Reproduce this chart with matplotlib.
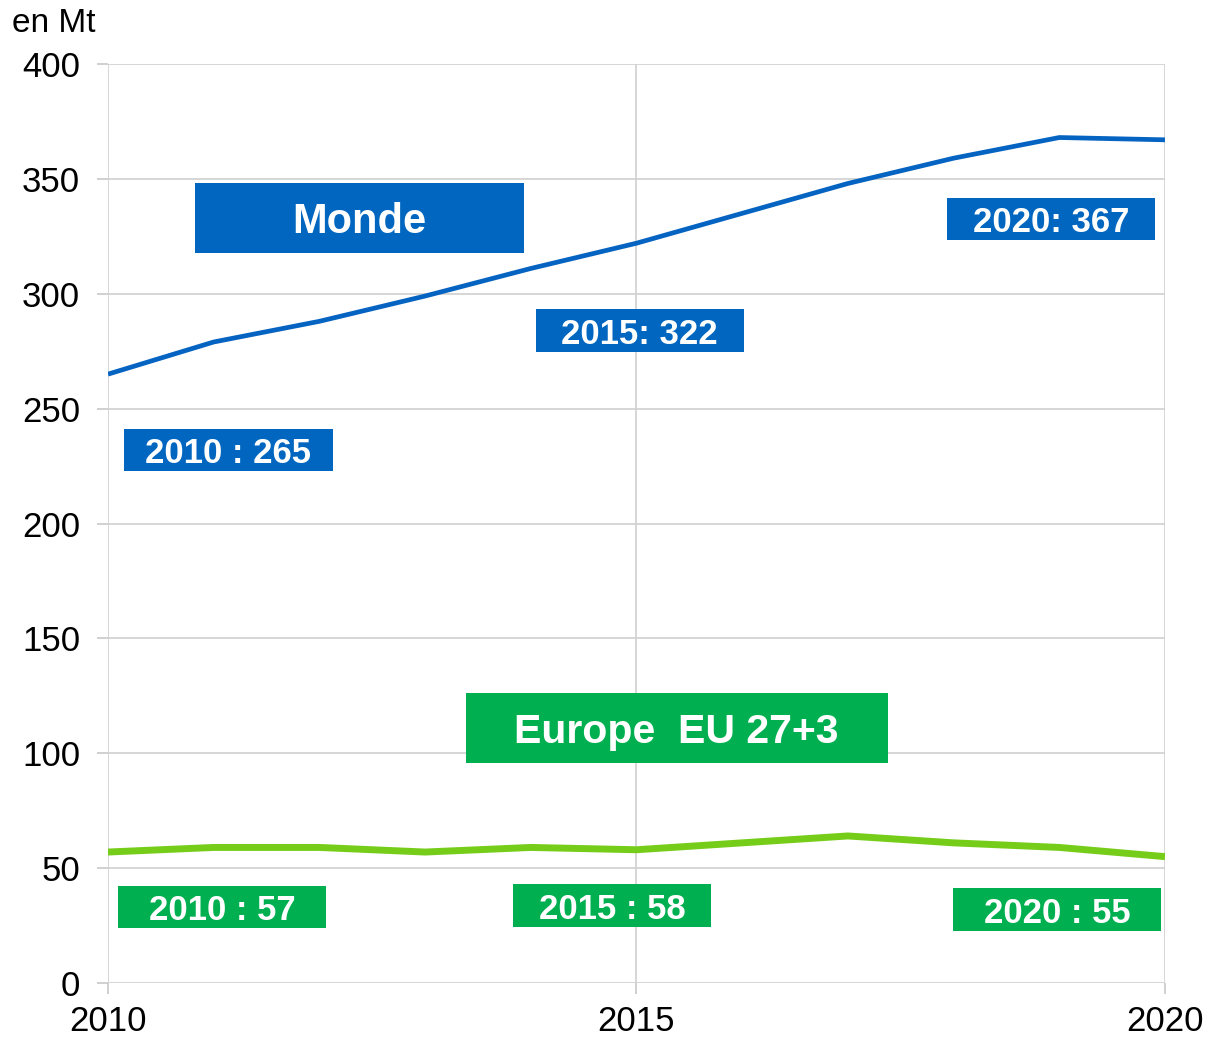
import matplotlib.pyplot as plt
from matplotlib.patches import Rectangle

plt.rcParams['font.family'] = ['Liberation Sans', 'DejaVu Sans']

# Données (en Mt)
annees = [2010, 2011, 2012, 2013, 2014, 2015, 2016, 2017, 2018, 2019, 2020]
monde = [265, 279, 288, 299, 311, 322, 335, 348, 359, 368, 367]
europe = [57, 59, 59, 57, 59, 58, 61, 64, 61, 59, 55]

y_ticks = [0, 50, 100, 150, 200, 250, 300, 350, 400]
x_ticks = [2010, 2015, 2020]

bleu = '#0066BF'
vert_box = '#00B050'
vert_ligne = '#76CD19'

fig = plt.figure(figsize=(12.09, 10.39), dpi=100)
ax = fig.add_axes([0.0893, 0.0539, 0.8743, 0.8845])

ax.plot(annees, monde, color='#0563C1', lw=3.4, solid_capstyle='butt', zorder=3)
ax.plot(annees, europe, color=vert_ligne, lw=5, solid_capstyle='butt', zorder=3)

ax.set_xlim(2010, 2020)
ax.set_ylim(0, 400)
ax.set_xticks(x_ticks)
ax.set_yticks(y_ticks)
ax.grid(True, color='#D0D0D0', lw=1.2)
ax.set_axisbelow(True)
for s in ax.spines.values():
    s.set_visible(False)
ax.tick_params(axis='both', labelsize=25, color='#C8C8C8', width=1.2, length=8)
ax.tick_params(axis='x', pad=8)
ax.tick_params(axis='y', pad=12)

fig.text(0.01, 0.992, 'en Mt', fontsize=24, va='top', ha='left')

# Étiquettes (centre x, centre y, largeur, hauteur, texte, couleur, taille)
etiquettes = [
    (2012.38, 333, 3.12, 30.5, 'Monde', bleu, 30),
    (2011.14, 232, 1.97, 18.3, '2010 : 265', bleu, 25),
    (2015.03, 284, 1.97, 18.3, '2015: 322', bleu, 25),
    (2018.92, 332.5, 1.97, 18.3, '2020: 367', bleu, 25),
    (2015.38, 111, 3.99, 30.5, 'Europe  EU 27+3', vert_box, 29.5),
    (2011.08, 33, 1.97, 18.3, '2010 : 57', vert_box, 25),
    (2014.77, 33.7, 1.87, 18.7, '2015 : 58', vert_box, 25),
    (2018.98, 31.8, 1.97, 18.7, '2020 : 55', vert_box, 25),
]
for cx, cy, w, h, txt, c, fs in etiquettes:
    ax.add_patch(Rectangle((cx - w / 2, cy - h / 2), w, h, facecolor=c,
                           edgecolor='none', zorder=4, clip_on=False))
    ax.text(cx, cy, txt, ha='center', va='center_baseline', color='white',
            fontsize=fs, fontweight='bold', zorder=5)

fig.savefig('out.png', dpi=100)
